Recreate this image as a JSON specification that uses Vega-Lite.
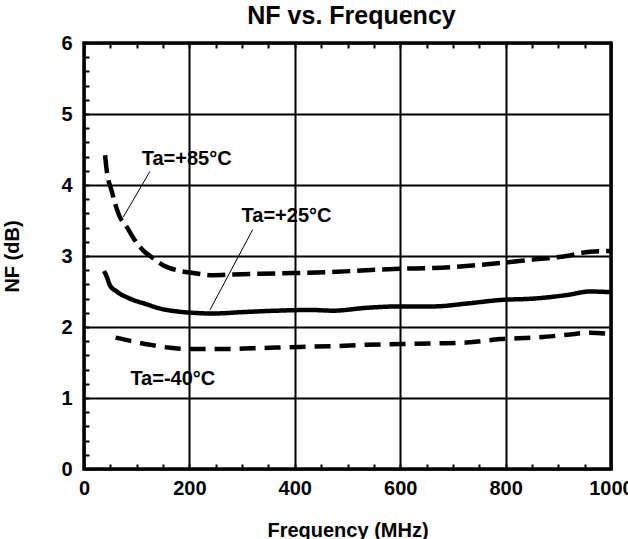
{
  "$schema": "https://vega.github.io/schema/vega-lite/v6.json",
  "width": 527,
  "height": 426,
  "autosize": {"type": "none"},
  "padding": {"left": 84, "top": 43, "right": 17, "bottom": 70},
  "background": "white",
  "title": {"text": "NF vs. Frequency", "font": "Liberation Sans", "fontSize": 25, "fontWeight": "bold", "color": "black", "offset": 4, "dx": 4},
  "config": {
    "view": {"stroke": "black", "strokeWidth": 3.5},
    "axis": {"labelFont": "Liberation Sans", "titleFont": "Liberation Sans", "labelColor": "black", "titleColor": "black", "tickColor": "black", "gridColor": "black"}
  },
  "datasets": {
    "curves": [
      {"series": "+85", "f": 40, "nf": 4.42}, {"series": "+85", "f": 43, "nf": 4.21}, {"series": "+85", "f": 52, "nf": 3.93}, {"series": "+85", "f": 68, "nf": 3.55}, {"series": "+85", "f": 81, "nf": 3.41}, {"series": "+85", "f": 94, "nf": 3.25}, {"series": "+85", "f": 112, "nf": 3.08}, {"series": "+85", "f": 131, "nf": 2.97}, {"series": "+85", "f": 150, "nf": 2.87}, {"series": "+85", "f": 176, "nf": 2.80}, {"series": "+85", "f": 207, "nf": 2.76}, {"series": "+85", "f": 245, "nf": 2.73}, {"series": "+85", "f": 283, "nf": 2.74}, {"series": "+85", "f": 334, "nf": 2.75}, {"series": "+85", "f": 397, "nf": 2.76}, {"series": "+85", "f": 460, "nf": 2.77}, {"series": "+85", "f": 536, "nf": 2.80}, {"series": "+85", "f": 600, "nf": 2.82}, {"series": "+85", "f": 663, "nf": 2.83}, {"series": "+85", "f": 726, "nf": 2.86}, {"series": "+85", "f": 789, "nf": 2.90}, {"series": "+85", "f": 853, "nf": 2.95}, {"series": "+85", "f": 916, "nf": 3.00}, {"series": "+85", "f": 960, "nf": 3.06}, {"series": "+85", "f": 1000, "nf": 3.07},
      {"series": "+25", "f": 38, "nf": 2.79}, {"series": "+25", "f": 43, "nf": 2.71}, {"series": "+25", "f": 49, "nf": 2.59}, {"series": "+25", "f": 62, "nf": 2.50}, {"series": "+25", "f": 87, "nf": 2.40}, {"series": "+25", "f": 119, "nf": 2.32}, {"series": "+25", "f": 144, "nf": 2.26}, {"series": "+25", "f": 176, "nf": 2.22}, {"series": "+25", "f": 207, "nf": 2.20}, {"series": "+25", "f": 245, "nf": 2.19}, {"series": "+25", "f": 302, "nf": 2.21}, {"series": "+25", "f": 366, "nf": 2.23}, {"series": "+25", "f": 429, "nf": 2.24}, {"series": "+25", "f": 473, "nf": 2.23}, {"series": "+25", "f": 536, "nf": 2.27}, {"series": "+25", "f": 600, "nf": 2.29}, {"series": "+25", "f": 663, "nf": 2.29}, {"series": "+25", "f": 726, "nf": 2.33}, {"series": "+25", "f": 789, "nf": 2.38}, {"series": "+25", "f": 853, "nf": 2.40}, {"series": "+25", "f": 916, "nf": 2.45}, {"series": "+25", "f": 960, "nf": 2.50}, {"series": "+25", "f": 1000, "nf": 2.49},
      {"series": "-40", "f": 60, "nf": 1.85}, {"series": "-40", "f": 90, "nf": 1.80}, {"series": "-40", "f": 125, "nf": 1.75}, {"series": "-40", "f": 160, "nf": 1.71}, {"series": "-40", "f": 200, "nf": 1.69}, {"series": "-40", "f": 260, "nf": 1.69}, {"series": "-40", "f": 320, "nf": 1.70}, {"series": "-40", "f": 410, "nf": 1.72}, {"series": "-40", "f": 473, "nf": 1.73}, {"series": "-40", "f": 536, "nf": 1.75}, {"series": "-40", "f": 600, "nf": 1.76}, {"series": "-40", "f": 663, "nf": 1.77}, {"series": "-40", "f": 726, "nf": 1.78}, {"series": "-40", "f": 789, "nf": 1.83}, {"series": "-40", "f": 853, "nf": 1.85}, {"series": "-40", "f": 916, "nf": 1.89}, {"series": "-40", "f": 960, "nf": 1.92}, {"series": "-40", "f": 1000, "nf": 1.90}
    ],
    "labels": [
      {"text": "Ta=+85°C", "f": 109.5, "nf": 4.37},
      {"text": "Ta=+25°C", "f": 299, "nf": 3.56},
      {"text": "Ta=-40°C", "f": 88, "nf": 1.27}
    ],
    "leaders": [
      {"f": 125, "nf": 4.19, "f2": 74.6, "nf2": 3.55},
      {"f": 320, "nf": 3.37, "f2": 239, "nf2": 2.24}
    ],
    "frame": [{"f": 0}, {"f": 1000}]
  },
  "resolve": {"axis": {"x": "independent", "y": "independent"}},
  "layer": [
    {
      "data": {"name": "curves"},
      "mark": {"type": "line", "color": "black", "strokeWidth": 4.5, "interpolate": "monotone", "clip": true},
      "encoding": {
        "x": {
          "field": "f", "type": "quantitative",
          "scale": {"domain": [0, 1000], "nice": false, "zero": false},
          "axis": {
            "values": [0, 50, 100, 150, 200, 250, 300, 350, 400, 450, 500, 550, 600, 650, 700, 750, 800, 850, 900, 950, 1000],
            "format": "d",
            "labelExpr": "datum.value % 200 === 0 ? datum.label : ''",
            "grid": true, "gridWidth": 2,
            "gridOpacity": {"condition": {"test": "datum.value % 200 === 0", "value": 1}, "value": 0},
            "ticks": true, "tickSize": -5, "tickWidth": 2,
            "domain": false,
            "labelFontSize": 20, "labelFontWeight": "bold", "labelPadding": 14,
            "labelOverlap": false, "labelFlush": false, "labelBound": false,
            "title": "Frequency (MHz)", "titleFontSize": 20, "titleFontWeight": "bold", "titlePadding": 22
          }
        },
        "y": {
          "field": "nf", "type": "quantitative",
          "scale": {"domain": [0, 6], "nice": false},
          "axis": {
            "values": [0, 0.2, 0.4, 0.6, 0.8, 1, 1.2, 1.4, 1.6, 1.8, 2, 2.2, 2.4, 2.6, 2.8, 3, 3.2, 3.4, 3.6, 3.8, 4, 4.2, 4.4, 4.6, 4.8, 5, 5.2, 5.4, 5.6, 5.8, 6],
            "format": ".1f",
            "labelExpr": "abs(datum.value - round(datum.value)) < 0.001 ? format(datum.value, 'd') : ''",
            "grid": true, "gridWidth": 2,
            "gridOpacity": {"condition": {"test": "abs(datum.value - round(datum.value)) < 0.001", "value": 1}, "value": 0},
            "ticks": true, "tickSize": -5, "tickWidth": 2,
            "domain": false,
            "labelFontSize": 20, "labelFontWeight": "bold", "labelPadding": 17,
            "labelOverlap": false, "labelFlush": false, "labelBound": false,
            "title": "NF (dB)", "titleFontSize": 20, "titleFontWeight": "bold", "titlePadding": 38
          }
        },
        "detail": {"field": "series"},
        "strokeDash": {
          "field": "series", "type": "nominal",
          "scale": {"domain": ["+85", "+25", "-40"], "range": [[18, 7], [1, 0], [16, 9]]},
          "legend": null
        }
      }
    },
    {
      "data": {"name": "frame"},
      "mark": {"type": "rule", "opacity": 0},
      "encoding": {
        "x": {
          "field": "f", "type": "quantitative",
          "axis": {
            "orient": "top",
            "values": [0, 50, 100, 150, 200, 250, 300, 350, 400, 450, 500, 550, 600, 650, 700, 750, 800, 850, 900, 950, 1000],
            "labels": false, "grid": false, "domain": false,
            "ticks": true, "tickSize": -5, "tickWidth": 2,
            "title": null
          }
        }
      }
    },
    {
      "data": {"name": "leaders"},
      "mark": {"type": "rule", "color": "black", "strokeWidth": 1},
      "encoding": {
        "x": {"field": "f", "type": "quantitative", "axis": null},
        "x2": {"field": "f2"},
        "y": {"field": "nf", "type": "quantitative", "axis": null},
        "y2": {"field": "nf2"}
      }
    },
    {
      "data": {"name": "labels"},
      "mark": {"type": "text", "font": "Liberation Sans", "fontSize": 20, "fontWeight": "bold", "color": "black", "align": "left", "baseline": "middle"},
      "encoding": {
        "x": {"field": "f", "type": "quantitative", "axis": null},
        "y": {"field": "nf", "type": "quantitative", "axis": null},
        "text": {"field": "text"}
      }
    }
  ]
}
